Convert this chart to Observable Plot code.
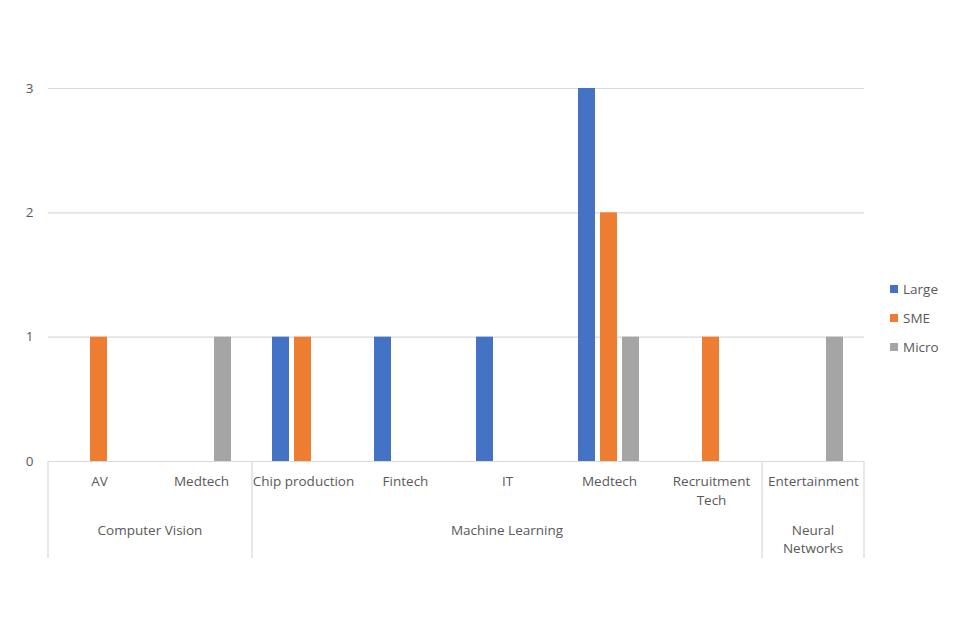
<!DOCTYPE html>
<html>
<head>
<meta charset="utf-8">
<script src="https://cdn.jsdelivr.net/npm/d3@7"></script>
<script src="https://cdn.jsdelivr.net/npm/@observablehq/plot@0.6"></script>
<style>
  html, body { margin: 0; padding: 0; background: #ffffff; }
  #chart { width: 960px; height: 640px; }
</style>
</head>
<body>
<div id="chart"></div>
<script>
// ---- data ----
const categories = ["AV", "Medtech", "Chip production", "Fintech", "IT", "Medtech", "Recruitment\nTech", "Entertainment"];
const groups = ["Computer Vision", "Computer Vision", "Machine Learning", "Machine Learning", "Machine Learning", "Machine Learning", "Machine Learning", "Neural\nNetworks"];
const seriesNames = ["Large", "SME", "Micro"];
const seriesColors = ["#4472C4", "#ED7D31", "#A5A5A5"];
const largeValues = [0, 0, 1, 1, 1, 3, 0, 0];
const smeValues = [1, 0, 1, 0, 0, 2, 1, 0];
const microValues = [0, 1, 0, 0, 0, 1, 0, 1];
const yTicks = [0, 1, 2, 3];

const ids = categories.map((_, i) => i);
const seriesValues = [largeValues, smeValues, microValues];
const rows = [];
ids.forEach(i => seriesNames.forEach((s, k) => {
  if (seriesValues[k][i] > 0) rows.push({id: i, series: s, value: seriesValues[k][i]});
}));

const textColor = "#595959";
const gridColor = "#D9D9D9";
const font = "'Open Sans', sans-serif";
const fontSize = 13.5;

const plot = Plot.plot({
  width: 960,
  height: 640,
  marginLeft: 48,
  marginRight: 96,
  marginTop: 88,
  marginBottom: 179,
  style: {fontFamily: font, fontSize: fontSize + "px", color: textColor, background: "#fff"},
  fx: {domain: ids, padding: 0, label: null},
  x: {domain: seriesNames, paddingInner: 0.222, paddingOuter: 0.878, axis: null},
  y: {domain: [0, 3], label: null},
  color: {domain: seriesNames, range: seriesColors},
  marks: [
    Plot.gridY({ticks: [1, 2, 3], stroke: gridColor, strokeOpacity: 1, strokeWidth: 1.2}),
    Plot.axisY({ticks: yTicks, tickSize: 0, tickPadding: 15, tickFormat: "d", label: null, fill: textColor}),
    Plot.axisFx({anchor: "bottom", tickSize: 0, tickPadding: 12, tickFormat: i => categories[i], lineHeight: 1.35, label: null, fill: textColor}),
    Plot.barY(rows, {fx: "id", x: "series", y: "value", fill: "series"}),
    Plot.ruleY([0], {stroke: gridColor, strokeWidth: 1.2})
  ]
});

document.getElementById("chart").appendChild(plot);

// ---- multi-level category separators and group labels ----
const svg = d3.select(plot);
const fxS = plot.scale("fx");
const yS = plot.scale("y");
const y0 = yS.apply(0);
const bw = fxS.bandwidth;
const groupSpans = [];
groups.forEach((g, i) => {
  const last = groupSpans[groupSpans.length - 1];
  if (last && last.name === g) last.end = i; else groupSpans.push({name: g, start: i, end: i});
});
const deco = svg.append("g");
const bounds = new Set();
groupSpans.forEach(s => { bounds.add(fxS.apply(s.start)); bounds.add(fxS.apply(s.end) + bw); });
bounds.forEach(x => {
  deco.append("line").attr("x1", x).attr("x2", x).attr("y1", y0).attr("y2", y0 + 97)
    .attr("stroke", gridColor).attr("stroke-width", 1.2);
});
groupSpans.forEach(s => {
  const cx = (fxS.apply(s.start) + fxS.apply(s.end) + bw) / 2;
  const lines = s.name.split("\n");
  const t = deco.append("text").attr("x", cx).attr("y", y0 + 74)
    .attr("text-anchor", "middle").attr("fill", textColor)
    .attr("font-family", font).attr("font-size", fontSize);
  lines.forEach((l, j) => t.append("tspan").attr("x", cx).attr("dy", j === 0 ? 0 : "1.35em").text(l));
});

// ---- legend ----
const colorS = plot.scale("color");
const leg = svg.append("g");
seriesNames.forEach((s, k) => {
  const cy = 289 + k * 29;
  leg.append("rect").attr("x", 890).attr("y", cy - 4).attr("width", 8).attr("height", 8).attr("fill", colorS.apply(s));
  leg.append("text").attr("x", 903).attr("y", cy).attr("dy", "0.35em").attr("fill", textColor)
    .attr("text-anchor", "start")
    .attr("font-family", font).attr("font-size", fontSize).text(s);
});
</script>
</body>
</html>
